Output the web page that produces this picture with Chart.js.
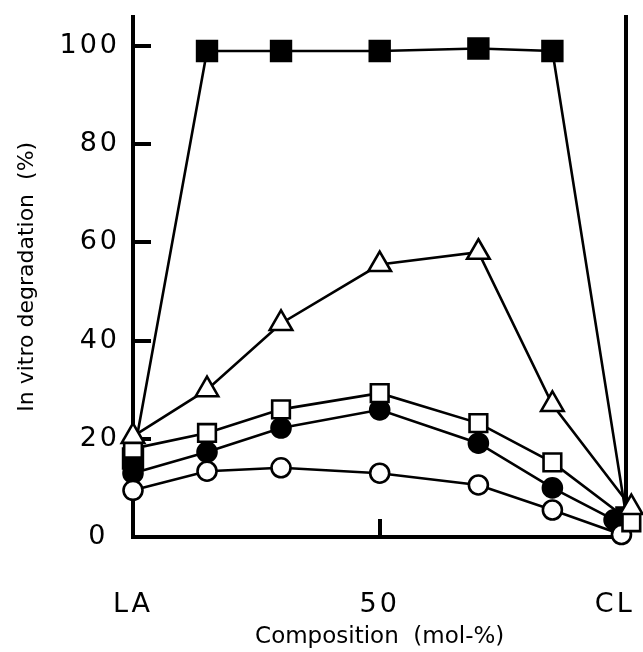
<!DOCTYPE html>
<html>
<head>
<meta charset="utf-8">
<title>In vitro degradation</title>
<script src="https://cdn.jsdelivr.net/npm/chart.js@4.4.0/dist/chart.umd.min.js"></script>
<style>
  html, body { margin: 0; padding: 0; background: #fff; }
  #chart { display: block; }
</style>
</head>
<body>
<canvas id="chart" width="643" height="652"></canvas>
<script>
// Composição em mol-% (LA puro = 0, CL puro = 100)
const composition = [0, 15, 30, 50, 70, 85, 100];

// Degradação in vitro (%), uma lista por série
const filledSquares = [16, 99, 99, 99, 99.5, 99, 4];
const openTriangles = [20.5, 30, 43.5, 55.5, 58, 27, 6];
const openSquares = [18, 21.2, 26, 29.3, 23.2, 15.2, 3];
const filledCircles = [13, 17.3, 22.2, 25.9, 19.1, 10, 3.5];
const openCircles = [9.5, 13.4, 14.1, 13, 10.6, 5.5, 0.5];

// no original os pontos de CL puro estão desenhados lado a lado
const clFilledSquare = 100;
const clTriangle = 101;
const clOpenSquare = 101;
const clFilledCircle = 97.5;
const clOpenCircle = 99;

// Rótulos dos eixos
const xTickValues = [0, 50, 100];
const xTickLabels = ['LA', '50', 'CL  '];
const yTickValues = [0, 20, 40, 60, 80, 100];
const yTickLabels = ['0 ', '20', '40', '60', '80', '100'];

const FONT = "'DejaVu Sans', sans-serif";

function toPoints(values, clX) {
    return values.map((v, i) => ({
        x: i === values.length - 1 ? clX : composition[i],
        y: v
    }));
}

function series(values, clX, style, radius, fill) {
    return {
        data: toPoints(values, clX),
        borderColor: '#000',
        borderWidth: 2.6,
        pointStyle: style,
        pointRadius: radius,
        pointBackgroundColor: fill,
        pointBorderColor: '#000',
        pointBorderWidth: 2.6,
        tension: 0,
        clip: false
    };
}

// sem o padding extra que o Chart.js reserva para os rótulos,
// e com os números do eixo mais espaçados (como no tipo da figura)
function fixScale(s) {
    s.paddingLeft = 0;
    s.paddingRight = 0;
    s.paddingTop = 0;
    s.paddingBottom = 0;
    if (!s._spaced) {
        const drawLabels = s.drawLabels.bind(s);
        s.drawLabels = function (area) {
            const c = this.ctx;
            const old = c.letterSpacing;
            c.letterSpacing = '3px';
            drawLabels(area);
            c.letterSpacing = old;
        };
        s._spaced = true;
    }
}

const inwardGrid = {
    drawOnChartArea: false,
    drawTicks: true,
    tickLength: -18,
    lineWidth: 4,
    color: '#000'
};

const ctx = document.getElementById('chart').getContext('2d');
const myChart = new Chart(ctx, {
    type: 'line',
    data: {
        datasets: [
            series(openTriangles, clTriangle, 'triangle', 13, '#fff'),
            series(openSquares, clOpenSquare, 'rect', 12.5, '#fff'),
            series(openCircles, clOpenCircle, 'circle', 9.5, '#fff'),
            series(filledCircles, clFilledCircle, 'circle', 9.5, '#000'),
            series(filledSquares, clFilledSquare, 'rect', 14, '#000')
        ]
    },
    options: {
        responsive: false,
        animation: false,
        devicePixelRatio: 1,
        layout: { padding: { top: 16, right: 16, left: 0, bottom: 0 } },
        plugins: {
            legend: { display: false },
            tooltip: { enabled: false }
        },
        scales: {
            x: {
                type: 'linear',
                position: 'bottom',
                min: 0,
                max: 100,
                afterBuildTicks: s => { s.ticks = xTickValues.map(v => ({ value: v })); },
                afterFit: s => { s.height = 115; fixScale(s); },
                ticks: {
                    callback: v => xTickLabels[xTickValues.indexOf(v)],
                    color: '#000',
                    font: { family: FONT, size: 27 },
                    padding: 70,
                    maxRotation: 0,
                    autoSkip: false
                },
                grid: inwardGrid,
                border: { display: true, width: 4, color: '#000' },
                title: {
                    display: true,
                    text: 'Composition  (mol-%)',
                    color: '#000',
                    font: { family: FONT, size: 23 },
                    padding: { top: 0, bottom: 1 }
                }
            },
            y: {
                type: 'linear',
                position: 'left',
                min: 0,
                max: 106,
                afterBuildTicks: s => { s.ticks = yTickValues.map(v => ({ value: v })); },
                afterFit: s => { s.width = 133; fixScale(s); },
                ticks: {
                    callback: v => yTickLabels[yTickValues.indexOf(v)],
                    color: '#000',
                    font: { family: FONT, size: 27 },
                    padding: 31
                },
                grid: inwardGrid,
                border: { display: true, width: 4, color: '#000' },
                title: {
                    display: true,
                    text: 'In vitro degradation  (%)',
                    color: '#000',
                    font: { family: FONT, size: 22 },
                    padding: { top: 14, bottom: 0 }
                }
            },
            // linha vertical do lado de CL
            y2: {
                type: 'linear',
                position: 'right',
                min: 0,
                max: 106,
                afterFit: s => { s.width = 0; },
                ticks: { display: false },
                grid: { display: false },
                border: { display: true, width: 4, color: '#000' }
            }
        }
    }
});
</script>
</body>
</html>
